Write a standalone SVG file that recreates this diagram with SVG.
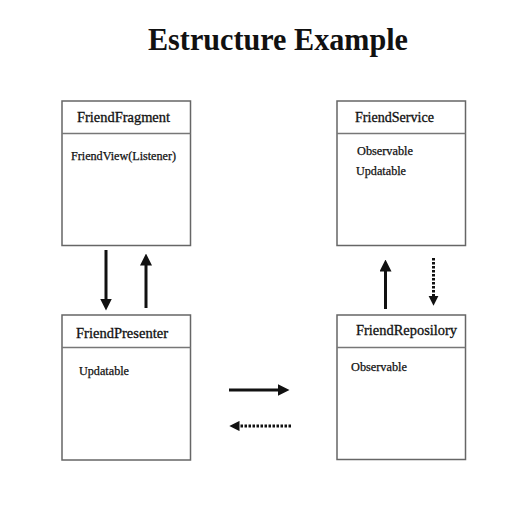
<svg xmlns="http://www.w3.org/2000/svg" width="512" height="512" viewBox="0 0 512 512">
<style>
.box{fill:#fff;stroke:#666;stroke-width:1.5}
.div{stroke:#777;stroke-width:1.5}
.t{font-family:"Liberation Serif",serif;font-size:14px;fill:#111;stroke:#111;stroke-width:0.3}
.s{font-family:"Liberation Serif",serif;font-size:12px;fill:#111;stroke:#111;stroke-width:0.25}
.ttl{font-family:"Liberation Serif",serif;font-size:31px;font-weight:bold;fill:#111}
.a{stroke:#111;stroke-width:3;fill:none}
.d{stroke:#111;stroke-width:3;fill:none;stroke-dasharray:2.5 1.5}
</style>
<defs>
<marker id="ah" markerWidth="4" markerHeight="4" refX="0.5" refY="2" orient="auto" markerUnits="strokeWidth">
<path d="M0,0 L4,2 L0,4 Z" fill="#111"/>
</marker>
<marker id="ahs" markerWidth="3.4" markerHeight="3.4" refX="0.5" refY="1.7" orient="auto" markerUnits="strokeWidth">
<path d="M0,0 L3.4,1.7 L0,3.4 Z" fill="#111"/>
</marker>
</defs>
<rect width="512" height="512" fill="#fff"/>
<text class="ttl" x="148" y="50" textLength="260" lengthAdjust="spacingAndGlyphs">Estructure Example</text>

<g id="friendFragment">
<rect class="box" x="62" y="101" width="128.5" height="144.5"/>
<line class="div" x1="62" y1="133.5" x2="190.5" y2="133.5"/>
<text class="t" x="77" y="122" textLength="93" lengthAdjust="spacingAndGlyphs">FriendFragment</text>
<text class="s" x="71" y="160" textLength="105" lengthAdjust="spacingAndGlyphs">FriendView(Listener)</text>
</g>

<g id="friendService">
<rect class="box" x="337" y="101" width="128.5" height="144.5"/>
<line class="div" x1="337" y1="133.5" x2="465.5" y2="133.5"/>
<text class="t" x="355" y="122" textLength="79" lengthAdjust="spacingAndGlyphs">FriendService</text>
<text class="s" x="357" y="155" textLength="56" lengthAdjust="spacingAndGlyphs">Observable</text>
<text class="s" x="356" y="175" textLength="50" lengthAdjust="spacingAndGlyphs">Updatable</text>
</g>

<g id="friendPresenter">
<rect class="box" x="62" y="315" width="128.5" height="145"/>
<line class="div" x1="62" y1="347.5" x2="190.5" y2="347.5"/>
<text class="t" x="76" y="338" textLength="92" lengthAdjust="spacingAndGlyphs">FriendPresenter</text>
<text class="s" x="79" y="375" textLength="50" lengthAdjust="spacingAndGlyphs">Updatable</text>
</g>

<g id="friendRepository">
<rect class="box" x="337" y="315" width="128.5" height="144.5"/>
<line class="div" x1="337" y1="347.5" x2="465.5" y2="347.5"/>
<text class="t" x="356" y="335" textLength="101" lengthAdjust="spacingAndGlyphs">FriendReposilory</text>
<text class="s" x="351" y="371" textLength="56" lengthAdjust="spacingAndGlyphs">Observable</text>
</g>

<g id="connectors">
<line class="a" x1="106" y1="250" x2="106" y2="300" marker-end="url(#ah)"/>
<line class="a" x1="146" y1="308" x2="146" y2="264" marker-end="url(#ah)"/>
<line class="a" x1="385.5" y1="309" x2="385.5" y2="270" marker-end="url(#ah)"/>
<line class="d" x1="433.5" y1="258" x2="433.5" y2="297" marker-end="url(#ahs)"/>
<line class="a" x1="229" y1="390" x2="279" y2="390" marker-end="url(#ah)"/>
<line class="d" x1="291" y1="426" x2="238" y2="426" marker-end="url(#ahs)"/>
</g>
</svg>
